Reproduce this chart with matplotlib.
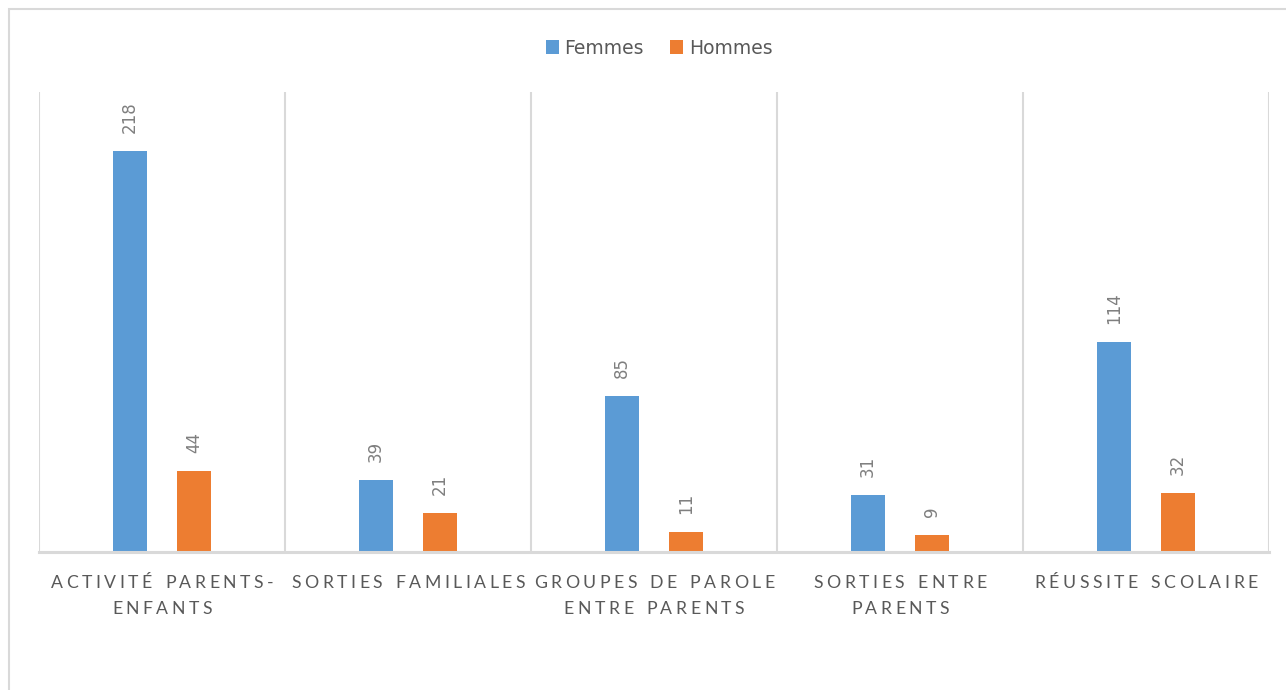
import matplotlib
matplotlib.use("Agg")
import matplotlib.pyplot as plt
import numpy as np
from matplotlib.patches import Rectangle, Patch

categories = ["ACTIVITÉ PARENTS-\nENFANTS", "SORTIES FAMILIALES", "GROUPES DE PAROLE\nENTRE PARENTS",
              "SORTIES ENTRE\nPARENTS", "RÉUSSITE SCOLAIRE"]
femmes = [218, 39, 85, 31, 114]
hommes = [44, 21, 11, 9, 32]
series_names = ["Femmes", "Hommes"]

BLUE = "#5B9BD5"
ORANGE = "#ED7D31"
GRID = "#D9D9D9"
TEXT = "#595959"
LABEL = "#7F7F7F"
TICK_FONT = ["Lato", "DejaVu Sans"]

fig = plt.figure(figsize=(12.86, 6.90), dpi=100)
W, H = 1286, 690

# outer chart border
fig.patches.append(Rectangle((9 / W, -0.1), 1.2, 1 - 9 / H + 0.1, transform=fig.transFigure,
                             fill=False, edgecolor=GRID, linewidth=1.5, clip_on=False))

ax = fig.add_axes([39 / W, 1 - 552 / H, (1269 - 39) / W, (552 - 92) / H])

x = np.arange(len(categories))
bw = 0.138
off = 0.13
b1 = ax.bar(x - off, femmes, bw, color=BLUE, zorder=3)
b2 = ax.bar(x + off, hommes, bw, color=ORANGE, zorder=3)

for bars, vals in ((b1, femmes), (b2, hommes)):
    for rect, v in zip(bars, vals):
        ax.annotate(str(v), (rect.get_x() + rect.get_width() / 2, v), xytext=(0, 13),
                    textcoords="offset points", rotation=90, ha="center", va="bottom",
                    fontsize=12, color=LABEL, family="DejaVu Sans")

ax.set_xlim(-0.5, len(categories) - 0.5)
ax.set_ylim(0, 250)

# category separators
for b in np.arange(len(categories) + 1) - 0.5:
    ax.axvline(b, color=GRID, linewidth=1.5, zorder=1)

for s in ("top", "right", "left"):
    ax.spines[s].set_visible(False)
ax.spines["bottom"].set_color(GRID)
ax.spines["bottom"].set_linewidth(2.2)
ax.spines["bottom"].set_zorder(4)
ax.set_yticks([])
ax.set_xticks(x)
ax.set_xticklabels([])
ax.tick_params(axis="x", length=0)

# category labels with expanded letter spacing, drawn glyph by glyph
renderer = fig.canvas.get_renderer()
tick_size = 12.7
_cache = {}


def glyph_width(s):
    if s not in _cache:
        t = fig.text(0, 0, s, fontsize=tick_size, family=TICK_FONT)
        _cache[s] = t.get_window_extent(renderer).width
        t.remove()
    return _cache[s]


space_w = glyph_width("H H") - glyph_width("HH") + 1.5
letter_gap = 3.5  # px
first_baseline = 588  # px from top
line_step = 26

for xi, label in zip(x, categories):
    cx = ax.transData.transform((xi, 0))[0]
    for li, line in enumerate(label.split("\n")):
        widths = [space_w if c == " " else glyph_width(c) for c in line]
        total = sum(widths) + letter_gap * (len(line) - 1)
        px = cx - total / 2
        y = 1 - (first_baseline + li * line_step) / H
        for c, w in zip(line, widths):
            if c != " ":
                fig.text(px / W, y, c, fontsize=tick_size, family=TICK_FONT, color=TEXT,
                         ha="left", va="baseline")
            px += w + letter_gap

handles = [Patch(facecolor=BLUE), Patch(facecolor=ORANGE)]
fig.legend(handles, series_names, loc="center", bbox_to_anchor=(659 / W, 1 - 48 / H), ncol=2,
           frameon=False, prop={"family": "DejaVu Sans", "size": 13.5}, labelcolor=TEXT,
           handlelength=0.7, handleheight=0.7, handletextpad=0.3, columnspacing=1.4)

fig.savefig("out.png", dpi=100)
